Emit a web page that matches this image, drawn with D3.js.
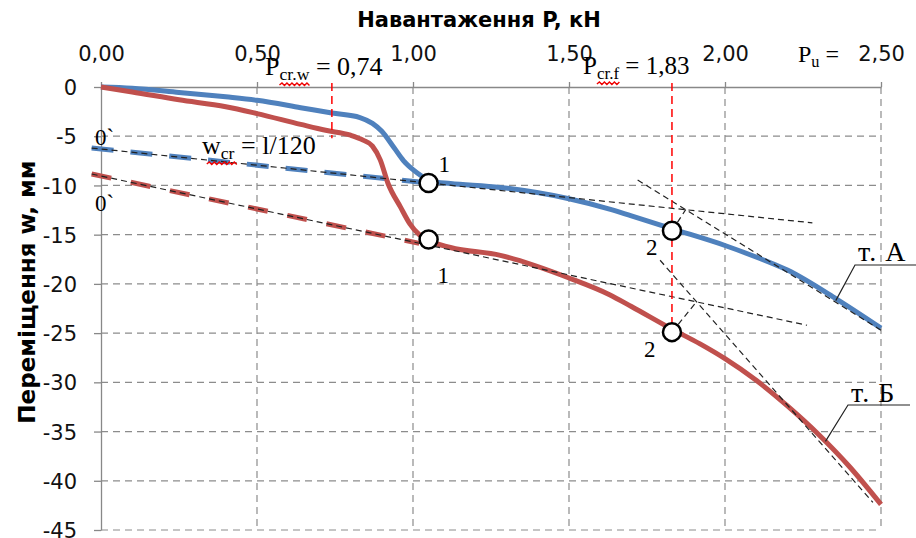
<!DOCTYPE html>
<html>
<head>
<meta charset="utf-8">
<script src="https://cdn.jsdelivr.net/npm/d3@7"></script>
<style>
  body { margin: 0; background: #fff; }
  svg { display: block; }
</style>
</head>
<body>
<svg id="chart" width="916" height="538"></svg>
<script>
// Load P (kN) and displacement w (mm) for point A
const loadA = [0, 0.1, 0.25, 0.4, 0.5, 0.64, 0.74, 0.83, 0.87, 0.9, 0.94, 0.97, 1.0, 1.03, 1.06, 1.12, 1.28, 1.5, 1.63, 1.7, 1.83, 2.0, 2.11, 2.2, 2.36, 2.5];
const dispA = [0, -0.12, -0.55, -1.0, -1.35, -2.1, -2.65, -3.1, -3.7, -4.5, -6.2, -7.5, -8.4, -9.1, -9.6, -9.8, -10.2, -11.35, -12.4, -13.1, -14.4, -16.1, -17.4, -18.6, -21.6, -24.5];
// Load P (kN) and displacement w (mm) for point B
const loadB = [0, 0.1, 0.25, 0.4, 0.5, 0.64, 0.72, 0.8, 0.84, 0.87, 0.895, 0.92, 0.96, 0.99, 1.02, 1.05, 1.12, 1.28, 1.5, 1.63, 1.7, 1.83, 1.92, 2.0, 2.1, 2.2, 2.3, 2.4, 2.5];
const dispB = [0, -0.5, -1.3, -2.0, -2.7, -3.8, -4.4, -4.9, -5.4, -6.0, -7.4, -9.8, -12.2, -13.9, -15.0, -15.6, -16.3, -17.1, -19.4, -21.1, -22.3, -24.6, -26.1, -27.6, -29.8, -32.4, -35.3, -38.6, -42.4];

const xTicks = [0, 0.5, 1.0, 1.5, 2.0, 2.5];
const yTicks = [0, -5, -10, -15, -20, -25, -30, -35, -40, -45];

// Characteristic points 1 and 2 on each curve
const keyLoads = [1.05, 1.83];
const keyA = [-9.75, -14.6];
const keyB = [-15.5, -24.9];

// Construction lines: [P1, w1, P2, w2]
const baseA = [-0.03, -6.2, 1.02, -9.65];     // initial branch, point A
const baseB = [-0.03, -8.84, 1.02, -15.88];   // initial branch, point B
const tangents = [
  [-0.03, -6.2, 2.28, -13.8],
  [-0.03, -8.84, 2.263, -24.2],
  [1.72, -9.45, 2.5, -24.7],
  [1.792, -17.6, 2.474, -42.2],
  [1.83, -14.6, 1.874, -12.46],
  [1.83, -24.9, 1.909, -21.8]
];

// Critical loads
const pCrW = 0.74, pCrF = 1.83;
const critMarks = [[pCrW, 0.4, -5.2], [pCrF, 0.4, -24.0]];

const svg = d3.select("#chart");
const W = 916, H = 538;
const margin = {left: 101, right: 35, top: 87, bottom: 8};

const x = d3.scaleLinear().domain([0, 2.5]).range([margin.left, W - margin.right]);
const y = d3.scaleLinear().domain([-45, 0]).range([H - margin.bottom, margin.top]);

const gridColor = "#8c8c8c";
const sans = "DejaVu Sans, sans-serif";
const serif = "Liberation Serif, Times New Roman, serif";
const fmtComma = v => d3.format(".2f")(v).replace(".", ",");

// Grid
const grid = svg.append("g");
grid.selectAll("line.v").data(xTicks.slice(1)).join("line")
  .attr("x1", d => x(d)).attr("x2", d => x(d))
  .attr("y1", y(0)).attr("y2", y(-45))
  .attr("stroke", gridColor).attr("stroke-width", 1.2).attr("stroke-dasharray", "7,5");
grid.selectAll("line.h").data(yTicks.slice(1)).join("line")
  .attr("x1", x(0)).attr("x2", x(2.5))
  .attr("y1", d => y(d)).attr("y2", d => y(d))
  .attr("stroke", gridColor).attr("stroke-width", 1.2).attr("stroke-dasharray", "7,5");

// Axes
const xAxis = svg.append("g").attr("transform", `translate(0,${y(0)})`)
  .call(d3.axisTop(x).tickValues(xTicks).tickFormat(fmtComma).tickSizeInner(5).tickSizeOuter(0).tickPadding(21));
const yAxis = svg.append("g").attr("transform", `translate(${x(0)},0)`)
  .call(d3.axisLeft(y).tickValues(yTicks).tickFormat(v => String(v)).tickSizeInner(7).tickSizeOuter(0).tickPadding(17));
[xAxis, yAxis].forEach(a => {
  a.select(".domain").attr("stroke", "#888").attr("stroke-width", 1.3);
  a.selectAll(".tick line").attr("stroke", "#888").attr("stroke-width", 1.3);
  a.selectAll(".tick text").attr("font-family", sans).attr("font-size", 21).attr("fill", "#111");
});
yAxis.selectAll(".tick text").attr("dy", "0.36em");

// Axis titles
svg.append("text").attr("x", 479).attr("y", 27).attr("text-anchor", "middle")
  .attr("font-family", sans).attr("font-weight", "bold").attr("font-size", 21)
  .text("Навантаження P, кН");
svg.append("text").attr("transform", "translate(35,292) rotate(-90)")
  .attr("text-anchor", "middle")
  .attr("font-family", sans).attr("font-weight", "bold").attr("font-size", 23)
  .text("Переміщення w, мм");

// Curves
const line = d3.line().x(d => x(d[0])).y(d => y(d[1])).curve(d3.curveMonotoneX);
const seriesA = loadA.map((p, i) => [p, dispA[i]]);
const seriesB = loadB.map((p, i) => [p, dispB[i]]);
const blue = "#4f81bd", red = "#c0504d";

const seg = (g, s, attrs) => {
  const l = g.append("line").attr("x1", x(s[0])).attr("y1", y(s[1])).attr("x2", x(s[2])).attr("y2", y(s[3]));
  Object.entries(attrs).forEach(([k, v]) => l.attr(k, v));
  return l;
};
const marks = svg.append("g");
// Thick dashed initial branches
seg(marks, baseA, {stroke: blue, "stroke-width": 5, "stroke-dasharray": "22,17"});
seg(marks, baseB, {stroke: red, "stroke-width": 5, "stroke-dasharray": "20,20"});

marks.append("path").datum(seriesA).attr("d", line)
  .attr("fill", "none").attr("stroke", blue).attr("stroke-width", 5).attr("stroke-linejoin", "round");
marks.append("path").datum(seriesB).attr("d", line)
  .attr("fill", "none").attr("stroke", red).attr("stroke-width", 5).attr("stroke-linejoin", "round");

// Thin tangent construction lines
tangents.forEach(t => seg(marks, t, {stroke: "#222", "stroke-width": 1.2, "stroke-dasharray": "6,4"}));

// Critical load markers
critMarks.forEach(c => seg(marks, [c[0], c[1], c[0], c[2]], {stroke: "#ff0000", "stroke-width": 1.5, "stroke-dasharray": "8,5"}));

// Characteristic point circles
const pts = keyLoads.map((p, i) => [p, keyA[i]]).concat(keyLoads.map((p, i) => [p, keyB[i]]));
marks.selectAll("circle").data(pts).join("circle")
  .attr("cx", d => x(d[0])).attr("cy", d => y(d[1])).attr("r", 9)
  .attr("fill", "#fff").attr("stroke", "#000").attr("stroke-width", 2.5);

// Point numbers
const num = (txt, px, py) => svg.append("text").attr("x", px).attr("y", py)
  .attr("font-family", serif).attr("font-size", 23).text(txt);
num("1", x(keyLoads[0]) + 10, y(keyA[0]) - 11);
num("1", x(keyLoads[0]) + 9, y(keyB[0]) + 43);
num("2", x(keyLoads[1]) - 26, y(keyA[1]) + 24);
num("2", x(keyLoads[1]) - 28, y(keyB[1]) + 25);

// Labels with subscripts and a red wavy underline under the subscript
function subLabel(px, py, main, sub, rest, size, wavy) {
  const t = svg.append("text").attr("x", px).attr("y", py)
    .attr("font-family", serif).attr("font-size", size);
  t.append("tspan").text(main);
  t.append("tspan").attr("font-size", size * 0.68).attr("dy", 5).text(sub);
  t.append("tspan").attr("dy", -5).text(rest);
  if (wavy) {
    const node = t.node();
    const i0 = main.length, i1 = main.length + sub.length - 1;
    const xs = node.getStartPositionOfChar(i0).x - (main === "w" ? 14 : 0);
    const xe = node.getEndPositionOfChar(i1).x;
    const yy = py + 8;
    let d = `M${xs},${yy + 2}`;
    for (let xx = xs, k = 0; xx < xe; xx += 2.5, k++) d += `L${xx + 2.5},${yy + (k % 2 ? 2.5 : 0)}`;
    svg.append("path").attr("d", d).attr("fill", "none").attr("stroke", "#e00").attr("stroke-width", 1.4);
  }
  return t;
}
subLabel(265, 75, "P", "cr.w", " = 0,74", 26, true);
subLabel(583, 74, "P", "cr.f", " = 1,83", 25, true);
subLabel(798, 62, "P", "u", " =", 24, false);
subLabel(202, 154, "w", "cr", " = l/120", 26, true);

svg.append("text").attr("x", 95).attr("y", 145).attr("font-family", serif).attr("font-size", 23).text("0`");
svg.append("text").attr("x", 95).attr("y", 211).attr("font-family", serif).attr("font-size", 23).text("0`");

// Point labels with leaders
const leader = (p, w, ex, ey, hx) => svg.append("path")
  .attr("d", `M${x(p)},${y(w)}L${ex},${ey}L${hx},${ey}`)
  .attr("fill", "none").attr("stroke", "#222").attr("stroke-width", 1.2);
leader(2.355, -21.7, 855, 265, 916);
svg.append("text").attr("x", 858).attr("y", 261).attr("font-family", serif).attr("font-size", 28).attr("letter-spacing", 1).text("т. А");
leader(2.322, -36.0, 848, 405, 910);
svg.append("text").attr("x", 851).attr("y", 402).attr("font-family", serif).attr("font-size", 28).attr("letter-spacing", 1).text("т. Б");
</script>
</body>
</html>
